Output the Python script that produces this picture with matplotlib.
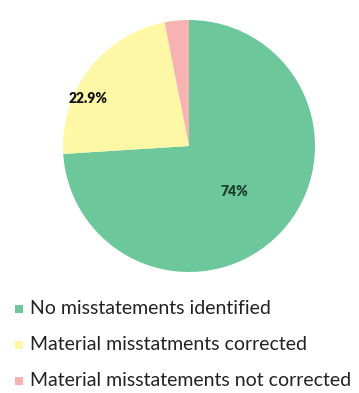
import matplotlib
matplotlib.use("Agg")
from matplotlib import pyplot as plt

# Data
categories = [
    "No misstatements identified",
    "Material misstatments corrected",
    "Material misstatements not corrected",
]
shares = [74.0, 22.9, 3.1]
value_labels = ["74%", "22.9%", ""]
colors = ["#6cc79b", "#fdf7a6", "#f7b3b1"]

plt.rcParams["font.family"] = ["Lato", "DejaVu Sans"]

fig = plt.figure(figsize=(3.59, 3.93), dpi=100)
ax = fig.add_axes([0.0, 0.0, 1.0, 1.0])
ax.set_xlim(0, 359)
ax.set_ylim(393, 0)
ax.axis("off")

# Pie in its own axes (center ~ (189,147), radius ~126 px)
r = 126
pie_ax = fig.add_axes([(189 - r) / 359, 1 - (146 + r) / 393, 2 * r / 359, 2 * r / 393])
wedges, texts = pie_ax.pie(
    shares,
    colors=colors,
    startangle=90,
    counterclock=False,
    wedgeprops={"linewidth": 0},
)
pie_ax.set_xlim(-1, 1)
pie_ax.set_ylim(-1, 1)
pie_ax.set_aspect("equal")

# Value labels
label_pos = [(0.36, -0.36), (-0.80, 0.38), (0, 0)]
for lab, pos, col in zip(value_labels, label_pos, ["#1f3d2c", "#111111", "#111111"]):
    if lab:
        pie_ax.text(pos[0], pos[1], lab, ha="center", va="center",
                    fontsize=10, fontweight="heavy", color=col)

# Legend
legend_y = [309, 345, 381]
for cat, col, y in zip(categories, colors, legend_y):
    ax.add_patch(plt.Rectangle((15, y - 4), 8, 8, color=col, lw=0))
    ax.text(30, y, cat, ha="left", va="center", fontsize=14, color="#222222")

fig.savefig("out.png", dpi=100)
